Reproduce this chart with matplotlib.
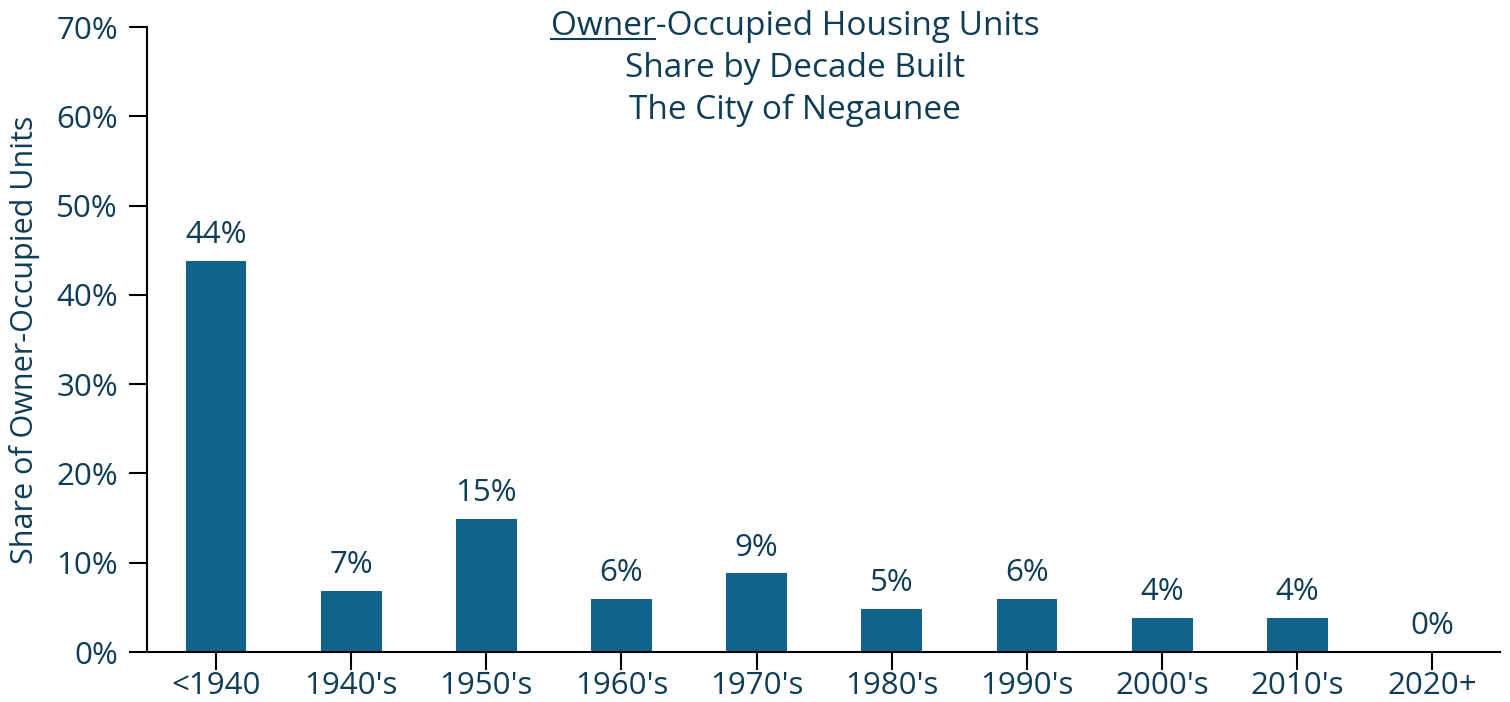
import matplotlib
matplotlib.use("Agg")
import matplotlib.pyplot as plt
from matplotlib.lines import Line2D

# data
decades = ["<1940", "1940's", "1950's", "1960's", "1970's", "1980's", "1990's", "2000's", "2010's", "2020+"]
shares = [43.8, 6.8, 14.9, 5.9, 8.8, 4.8, 5.9, 3.8, 3.8, 0.0]
y_ticks = [0, 10, 20, 30, 40, 50, 60, 70]
title_lines = ["Owner-Occupied Housing Units", "Share by Decade Built", "The City of Negaunee"]

bar_color = "#11638b"
text_color = "#0f3d57"

plt.rcParams["font.family"] = ["Open Sans", "DejaVu Sans"]


def main():
    fig = plt.figure(figsize=(15.1, 7.02), dpi=100)
    ax = fig.add_axes([0.0974, 0.0712, 0.896, 0.8903])

    x = list(range(len(decades)))
    ax.bar(x, shares, width=0.45, color=bar_color)
    for xi, v in zip(x, shares):
        ax.text(xi, v + 2.0, f"{v:.0f}%", ha="center", va="baseline",
                fontsize=22.5, color=text_color)

    ax.set_xlim(-0.51, 9.5)
    ax.set_ylim(0, 70)
    ax.set_xticks(x)
    ax.set_xticklabels(decades)
    ax.set_yticks(y_ticks)
    ax.set_yticklabels([f"{t}%" for t in y_ticks])
    ax.tick_params(axis="both", direction="out", length=13, width=1.5,
                   labelsize=22.5, labelcolor=text_color, color="black")
    ax.tick_params(axis="y", pad=8)
    ax.tick_params(axis="x", pad=1)

    for s in ["top", "right"]:
        ax.spines[s].set_visible(False)
    for s in ["left", "bottom"]:
        ax.spines[s].set_linewidth(1.5)

    ax.set_ylabel("Share of Owner-Occupied Units", fontsize=22, color=text_color)
    ax.yaxis.set_label_coords(-0.079, 0.5)

    # title, three lines, first word underlined
    tx = 795 / 1510
    texts = []
    for line, yb in zip(title_lines, [35, 77, 119]):
        texts.append(fig.text(tx, 1 - yb / 702, line, ha="center", va="baseline",
                              fontsize=24, color=text_color))

    fig.canvas.draw()
    r = fig.canvas.get_renderer()
    bb = texts[0].get_window_extent(r)
    tmp = fig.text(0, 0, "Owner", fontsize=24)
    w = tmp.get_window_extent(r).width
    tmp.remove()
    W, H = fig.bbox.width, fig.bbox.height
    y_u = 1 - 39 / 702
    fig.add_artist(Line2D([bb.x0 / W, (bb.x0 + w) / W], [y_u, y_u],
                          color=text_color, lw=1.5, transform=fig.transFigure))

    fig.savefig("out.png", dpi=100)


if __name__ == "__main__":
    main()
